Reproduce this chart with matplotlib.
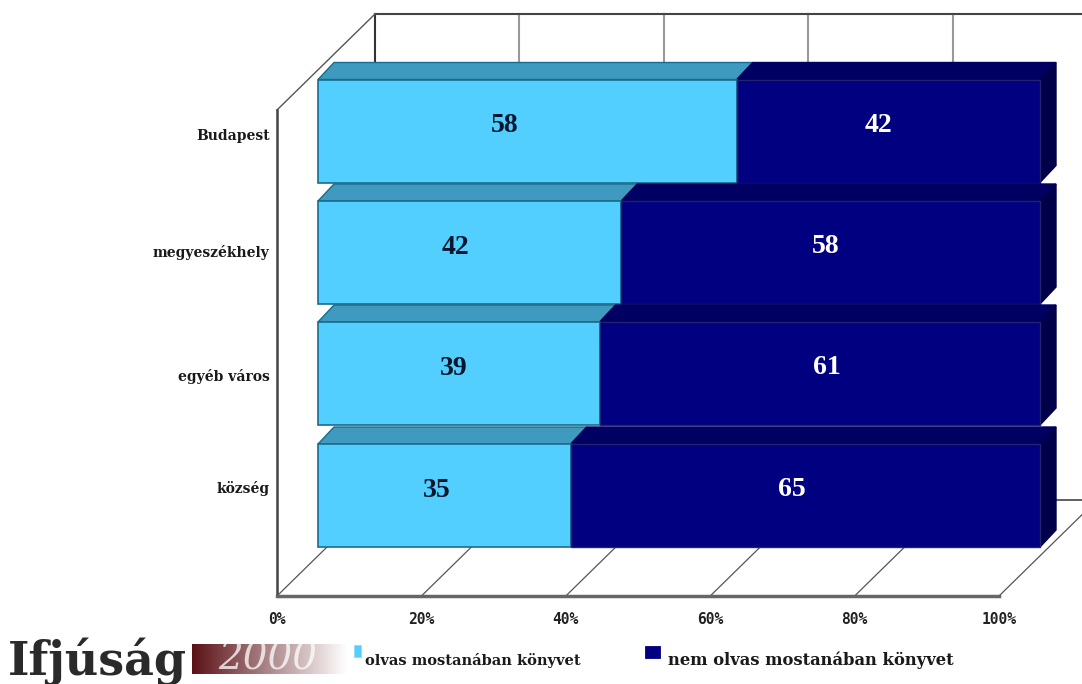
# Stacked 3D-look bar chart of book reading by settlement type
import numpy as np
import matplotlib
matplotlib.use('Agg')
import matplotlib.pyplot as plt
from matplotlib.patches import Polygon, Rectangle

categories = ['Budapest', 'megyeszékhely', 'egyéb város', 'község']
reads = [58, 42, 39, 35]
not_reads = [42, 58, 61, 65]
x_ticks = [0, 20, 40, 60, 80, 100]
x_tick_labels = ['0%', '20%', '40%', '60%', '80%', '100%']
legend_labels = ['olvas mostanában könyvet', 'nem olvas mostanában könyvet']

# layout: x axis is in percent, y axis is in pixels from the top
PX = 7.22
bar_y = [131, 252.5, 373.5, 495.5]
bar_h = 103
bar_dx = 16 / PX
bar_dy = 17
wall_x = -41 / PX
wall_dx = 98 / PX
wall_dy = 96
floor_y = 596
top_y = 14
# small nudges so the labels sit where they do in the picture
read_nudge = [-3.2, -1.9, -0.7, -1.0]
not_nudge = [-1.4, -0.7, 1.0, -1.8]
label_y = [136, 252, 376, 488]

light, light_top, light_edge = '#53CFFF', '#3E9ABF', '#1B6C8C'
dark, dark_top, dark_side = '#000080', '#000062', '#00004A'

fig = plt.figure(figsize=(10.82, 6.84), dpi=100)
ax = fig.add_axes([0, 0, 1, 1])
ax.set_xlim(-318 / PX, (1082 - 318) / PX)
ax.set_ylim(684, 0)
ax.axis('off')

# back wall and floor, the back lines only show above the first bar
back = wall_x + wall_dx
wall_line_end = bar_y[0] - bar_h / 2 - bar_dy
for i, t in enumerate(x_ticks):
    ax.plot([back + t] * 2, [top_y, wall_line_end], color='#333333' if i == 0 else '#999999',
            lw=1.5, zorder=1)
    ax.plot([wall_x + t, back + t], [floor_y, floor_y - wall_dy], color='#555555', lw=0.9, zorder=1)
ax.plot([back, 110], [top_y, top_y], color='#444444', lw=1.5, zorder=1)
ax.plot([back, 110], [floor_y - wall_dy] * 2, color='#444444', lw=1.2, zorder=1)
ax.plot([wall_x, back], [110, top_y], color='#555555', lw=1.0, zorder=1)
ax.plot([wall_x, wall_x], [110, floor_y], color='#444444', lw=1.8, zorder=1)
ax.plot([wall_x, wall_x + 100], [floor_y, floor_y], color='#666666', lw=2.5, zorder=1)

# bars, top one first so the lower ones overlap it
for i, cat in enumerate(categories):
    y0 = bar_y[i] - bar_h / 2
    y1 = bar_y[i] + bar_h / 2
    zo = 2 + i
    r = reads[i]
    n = not_reads[i]
    ax.add_patch(Polygon([(0, y0), (r, y0), (r + bar_dx, y0 - bar_dy), (bar_dx, y0 - bar_dy)],
                         fc=light_top, ec=light_edge, lw=1, zorder=zo))
    ax.add_patch(Polygon([(r, y0), (r + n, y0), (r + n + bar_dx, y0 - bar_dy), (r + bar_dx, y0 - bar_dy)],
                         fc=dark_top, ec=dark_top, lw=1, zorder=zo))
    ax.add_patch(Polygon([(r + n, y0), (r + n + bar_dx, y0 - bar_dy), (r + n + bar_dx, y1 - bar_dy), (r + n, y1)],
                         fc=dark_side, ec=dark_side, lw=1, zorder=zo))
    ax.barh(bar_y[i], r, height=bar_h, color=light, edgecolor=light_edge, lw=1.2, zorder=zo)
    ax.barh(bar_y[i], n, left=r, height=bar_h, color=dark, edgecolor='#22226E', lw=1, zorder=zo)
    ax.text(r / 2 + read_nudge[i], bar_y[i] - 5, str(r), ha='center', va='center', color='#06162E',
            fontsize=20, fontweight='bold', family='Liberation Serif', zorder=10)
    ax.text(r + n / 2 + not_nudge[i], bar_y[i] - 6, str(n), ha='center', va='center', color='white',
            fontsize=20, fontweight='bold', family='Liberation Serif', zorder=10)
    ax.text(wall_x - 1, label_y[i], cat, ha='right', va='center', color='#1a1a1a',
            fontsize=10, fontweight='bold', family='DejaVu Serif')

# percent labels under the floor
for t, lab in zip(x_ticks, x_tick_labels):
    ax.text(wall_x + t, 620, lab, ha='center', va='center', color='#222222',
            fontsize=10.5, fontweight='bold', family='DejaVu Sans Mono')

# logo
ax.text(-318 / PX + 8 / PX, 675, 'Ifjúság', ha='left', va='baseline', color='#2a2a2a',
        fontsize=33, fontweight='bold', family='DejaVu Serif')
fade = np.linspace(0, 1, 160)[None, :, None]
maroon = np.array([0.36, 0.07, 0.09])
strip = maroon * (1 - fade) + np.array([1, 1, 1]) * fade
logo_box = [(192 - 318) / PX, (347 - 318) / PX, 674, 644]
ax.imshow(strip, extent=logo_box, aspect='auto', zorder=1)
ax.set_xlim(-318 / PX, (1082 - 318) / PX)
ax.set_ylim(684, 0)
ax.text((268 - 318) / PX, 659, '2000', ha='center', va='center', color='white', alpha=0.75,
        fontsize=28, fontstyle='italic', family='DejaVu Serif', zorder=2)

# legend
ax.add_patch(Rectangle(((354 - 318) / PX, 645), 7 / PX, 12, fc=light, ec='#8fdcff', lw=0.6))
ax.text((365 - 318) / PX, 660, legend_labels[0], ha='left', va='center', color='#1a1a1a',
        fontsize=10.5, fontweight='bold', family='DejaVu Serif')
ax.add_patch(Rectangle(((645 - 318) / PX, 646), 15 / PX, 12, fc=dark, ec=dark, lw=0.6))
ax.text((668 - 318) / PX, 660, legend_labels[1], ha='left', va='center', color='#1a1a1a',
        fontsize=11.8, fontweight='bold', family='DejaVu Serif')

fig.savefig('out.png', dpi=100)
